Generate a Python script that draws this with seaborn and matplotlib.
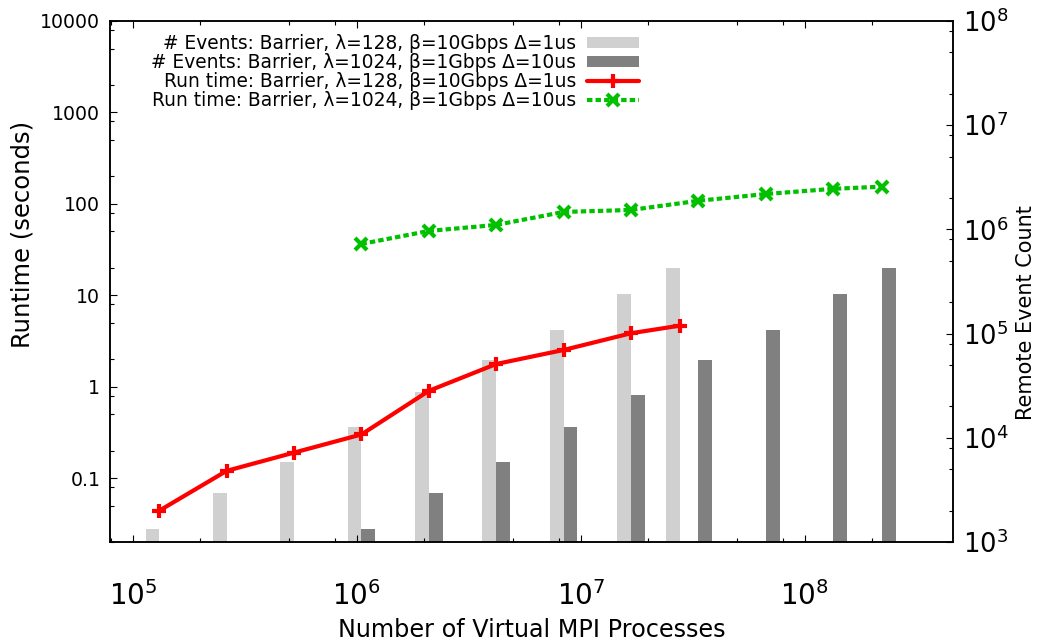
import numpy as np
import matplotlib
matplotlib.use('Agg')
import matplotlib.pyplot as plt
from matplotlib.ticker import LogLocator, FuncFormatter, NullFormatter
import seaborn as sns

# virtual MPI process counts
procs_128 = [131072, 262144, 524288, 1048576, 2097152, 4194304, 8388608, 16777216, 27700000]
procs_1024 = [1048576, 2097152, 4194304, 8388608, 16777216, 33554432, 67108864, 134217728, 221600000]

# run time in seconds
runtime_128 = [0.044, 0.12, 0.19, 0.30, 0.90, 1.77, 2.52, 3.84, 4.65]
runtime_1024 = [36.4, 50.5, 58.8, 81.5, 85.7, 108, 128, 146, 154]

# remote event counts
events_128 = [1320, 2960, 5830, 12650, 27400, 55700, 108000, 239000, 428000]
events_1024 = [1320, 2960, 5830, 12650, 25800, 55700, 108000, 239000, 428000]

labels = [
    '# Events: Barrier, λ=128, β=10Gbps Δ=1us',
    '# Events: Barrier, λ=1024, β=1Gbps Δ=10us',
    'Run time: Barrier, λ=128, β=10Gbps Δ=1us',
    'Run time: Barrier, λ=1024, β=1Gbps Δ=10us',
]

sns.set_theme(style='ticks')
plt.rcParams['font.family'] = ['DejaVu Sans']
plt.rcParams['mathtext.fontset'] = 'dejavusans'
plt.rcParams['axes.linewidth'] = 1.1
plt.rcParams['axes.edgecolor'] = 'black'
plt.rcParams['text.color'] = 'black'
plt.rcParams['axes.labelcolor'] = 'black'
plt.rcParams['xtick.color'] = 'black'
plt.rcParams['ytick.color'] = 'black'

fig, ax = plt.subplots(figsize=(10.43, 6.42), dpi=100)
fig.subplots_adjust(left=0.1055, right=0.9137, top=0.9673, bottom=0.1558)
ax2 = ax.twinx()
ax.set_zorder(ax2.get_zorder() + 1)
ax.patch.set_visible(False)

# bars on the event axis, light ones left of the point, dark ones right
bar_w = 0.0614  # in decades
ev_floor = 1e3
x1 = np.array(procs_128, dtype=float)
x2 = np.array(procs_1024, dtype=float)
ax2.bar(x1 * 10 ** -bar_w, np.array(events_128) - ev_floor, width=x1 - x1 * 10 ** -bar_w,
        bottom=ev_floor, align='edge', color='#d0d0d0', linewidth=0, label=labels[0])
ax2.bar(x2, np.array(events_1024) - ev_floor, width=x2 * (10 ** bar_w - 1),
        bottom=ev_floor, align='edge', color='#808080', linewidth=0, label=labels[1])

# runtime lines
sns.lineplot(x=procs_128, y=runtime_128, ax=ax, color='#ff0000', linewidth=3,
             marker='+', markersize=10, markeredgewidth=3, markeredgecolor='#ff0000',
             label=labels[2])
sns.lineplot(x=procs_1024, y=runtime_1024, ax=ax, color='#00c000', linewidth=3,
             linestyle=(0, (1.3, 0.75)), marker='x', markersize=8, markeredgewidth=3,
             markeredgecolor='#00c000', label=labels[3])

ax.set_xscale('log')
ax.set_yscale('log')
ax2.set_yscale('log')
ax.set_xlim(7.9e4, 4.6e8)
ax.set_ylim(0.02, 10000)
ax2.set_ylim(1e3, 1e8)

# ticks
ax.xaxis.set_major_locator(LogLocator(base=10, numticks=20))
ax.xaxis.set_minor_locator(LogLocator(base=10, subs=(2, 5, 8), numticks=20))
ax.xaxis.set_minor_formatter(NullFormatter())
ax.yaxis.set_major_locator(LogLocator(base=10, numticks=20))
ax.yaxis.set_minor_locator(LogLocator(base=10, subs=(2, 5, 8), numticks=20))
ax.yaxis.set_major_formatter(FuncFormatter(lambda v, p: '%g' % v))
ax.yaxis.set_minor_formatter(NullFormatter())
ax2.yaxis.set_major_locator(LogLocator(base=10, numticks=20))
ax2.yaxis.set_minor_locator(LogLocator(base=10, subs=(2, 5, 8), numticks=20))
ax2.yaxis.set_minor_formatter(NullFormatter())

ax.tick_params(axis='x', which='both', direction='in', top=True, bottom=True)
ax.tick_params(axis='x', which='major', length=5, width=0.8, labelsize=20, pad=28)
ax.tick_params(axis='x', which='minor', length=2.8, width=0.8)
ax.tick_params(axis='y', which='both', direction='in', left=True, right=False)
ax.tick_params(axis='y', which='major', length=5, width=0.8, labelsize=13.6, pad=7)
ax.tick_params(axis='y', which='minor', length=2.8, width=0.8)
ax2.tick_params(axis='y', which='both', direction='in', right=True)
ax2.tick_params(axis='y', which='major', length=5, width=0.8, labelsize=18.5, pad=7)
ax2.tick_params(axis='y', which='minor', length=2.8, width=0.8)

ax.set_xlabel('Number of Virtual MPI Processes', fontsize=17.2)
ax.xaxis.set_label_coords(0.5, -0.145)
ax.set_ylabel('Runtime (seconds)', fontsize=17.5)
ax.yaxis.set_label_coords(-0.090, 0.59)
ax2.set_ylabel('Remote Event Count', fontsize=15)
ax2.yaxis.set_label_coords(1.075, 0.44)

h1, l1 = ax2.get_legend_handles_labels()
h2, l2 = ax.get_legend_handles_labels()
ax.legend(h1 + h2, l1 + l2, loc='upper right', bbox_to_anchor=(0.627, 0.975),
          frameon=False, markerfirst=False, fontsize=13.4, handlelength=2.75,
          handleheight=0.55, handletextpad=0.62, labelspacing=0.0,
          borderpad=0, borderaxespad=0)

fig.savefig('out.png', dpi=100)
